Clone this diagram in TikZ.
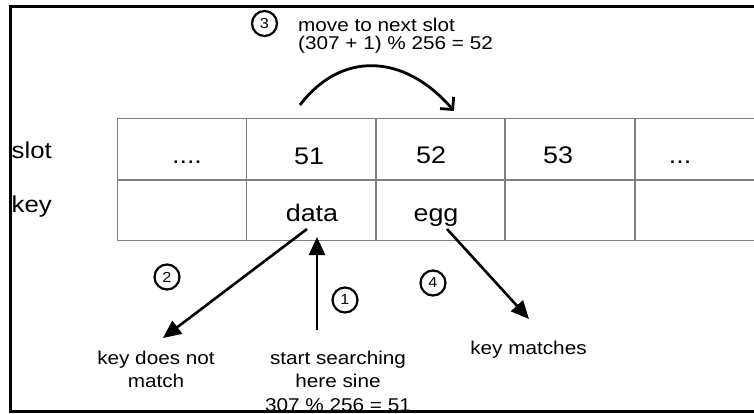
\documentclass[tikz,border=0pt]{standalone}
\usepackage{fontspec}
\setmainfont{Liberation Sans}[FakeStretch=1.12]
\usetikzlibrary{arrows.meta}
\tikzset{
  frameline/.style={line width=3pt, black},
  gridline/.style={line width=1.3pt, draw=black!50},
  celltext/.style={inner sep=0pt, anchor=base, font=\fontsize{24}{24}\selectfont},
  rowtext/.style={inner sep=0pt, anchor=base west, font=\fontsize{23}{23}\selectfont},
  notetext/.style={inner sep=0pt, anchor=base, align=center, font=\fontsize{18.5}{23.5}\selectfont},
  stepnum/.style={circle, draw, line width=2.2pt, minimum size=25pt, inner sep=0pt, font=\fontsize{14.5}{14.5}\selectfont},
  fillarrow/.style={line width=2.6pt, -{Triangle[length=18pt,width=16pt]}},
  barbarrow/.style={line width=2.8pt, -{Straight Barb[length=9pt,width=18pt,line width=2.8pt]}},
}
\begin{document}
\begin{tikzpicture}[x=1pt,y=-1pt]
\useasboundingbox (0,0) rectangle (754,413);
% frame
\draw[frameline] (756,6.5) -- (10.5,6.5) -- (10.5,411.5) -- (756,411.5);
% table grid
\draw[gridline] (117.3,118.3) -- (756,118.3);
\draw[gridline] (117.3,180) -- (756,180);
\draw[gridline] (117.3,240.5) -- (756,240.5);
\foreach \x in {117.3,246.7,376,505,635}{
  \draw[gridline] (\x,118.3) -- (\x,240.5);
}
% row labels
\node[rowtext] (slotlab) at (11.5,158) {slot};
\node[rowtext] (keylab) at (11.5,212) {key};
% cells
\node[celltext] (s50) at (187,163) {....};
\node[celltext] (s51) at (309,164) {51};
\node[celltext] (s52) at (431,163) {52};
\node[celltext] (s53) at (558,163) {53};
\node[celltext] (s54) at (680,163) {...};
\node[celltext] (data) at (312,221) {data};
\node[celltext] (egg) at (436,221) {egg};
% step 3
\node[stepnum] (c3) at (264.5,23.5) {3};
\node[inner sep=0pt, anchor=base west, align=left, font=\fontsize{18.5}{18.3}\selectfont] (movelab) at (298,49.3) {move to next slot\\(307 + 1) \% 256 = 52};
\coordinate (arcfrom) at (300,105);
\coordinate (arcto) at (454,111);
\draw[barbarrow] (arcfrom) .. controls (340,52) and (403,52) .. (arcto);
% notes
\node[notetext] (nomatch) at (156,387.5) {key does not\\match};
\node[notetext] (start) at (338,411) {start searching\\here sine\\307 \% 256 = 51};
\node[notetext] (match) at (528.5,354) {key matches};
% step circles
\node[stepnum] (c1) at (345,300) {1};
\node[stepnum] (c2) at (167,277) {2};
\node[stepnum] (c4) at (433,283) {4};
% arrows
\coordinate (a1from) at (317,330);
\coordinate (a1to) at (317,237);
\draw[fillarrow] (a1from) -- (a1to);
\coordinate (a2from) at (307,229);
\coordinate (a2to) at (163,338);
\draw[fillarrow] (a2from) -- (a2to);
\coordinate (a4from) at (447,229);
\coordinate (a4to) at (529,319);
\draw[fillarrow] (a4from) -- (a4to);
\end{tikzpicture}
\end{document}
